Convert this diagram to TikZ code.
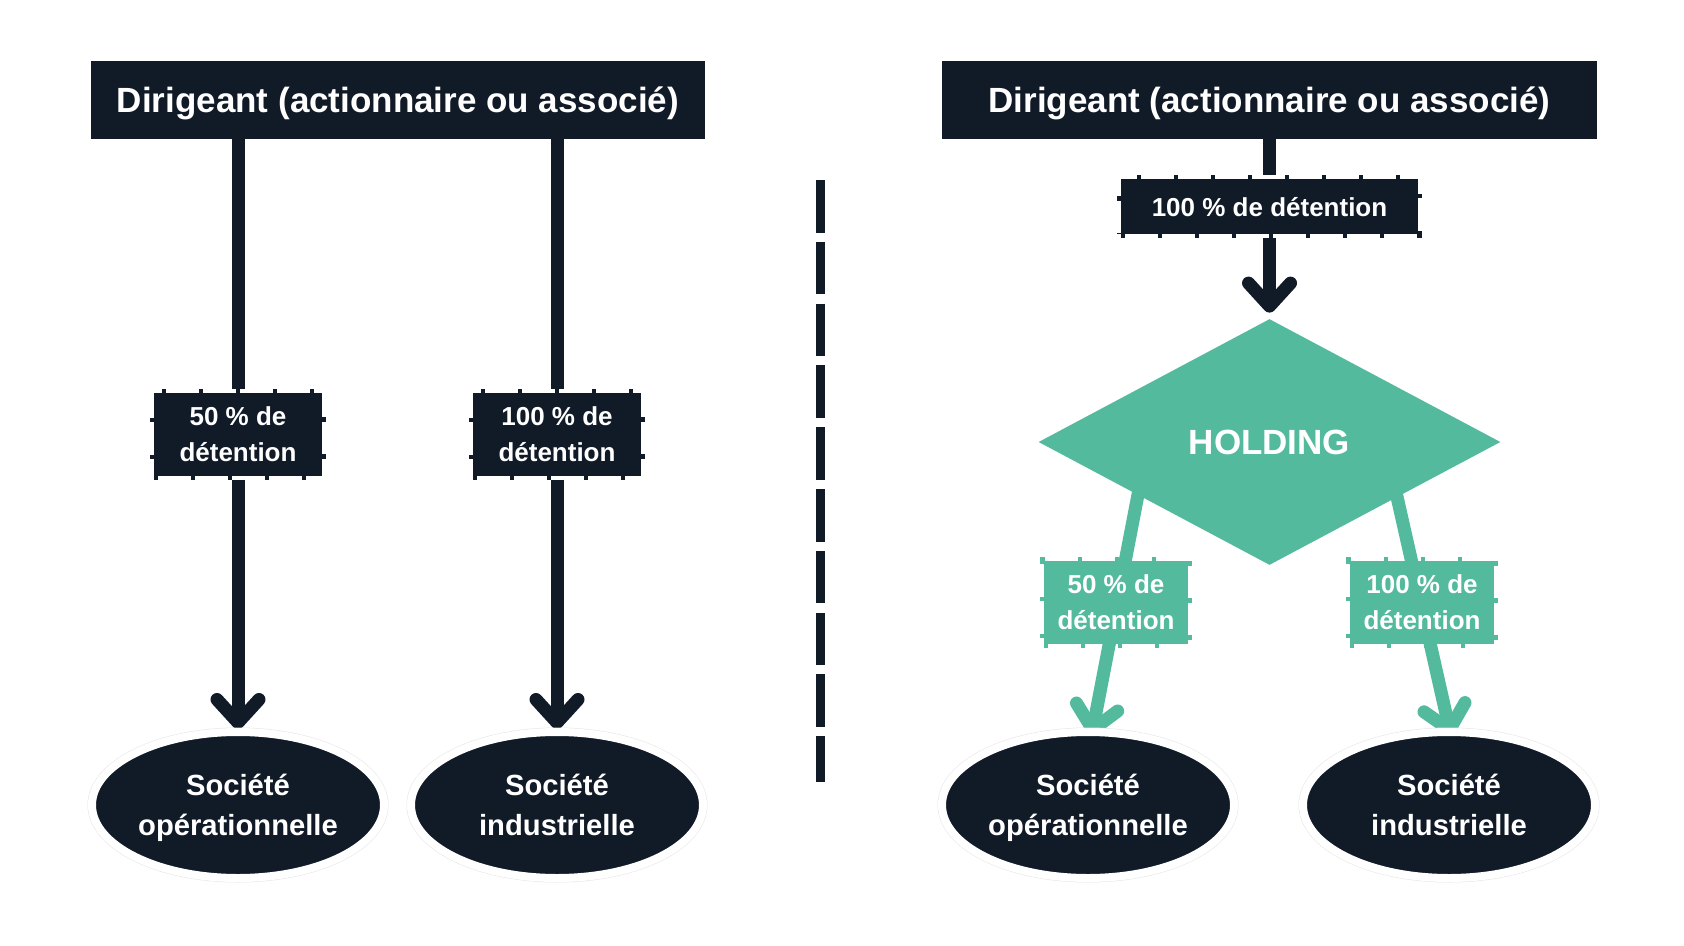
\documentclass[tikz,border=0pt]{standalone}
\usepackage{fontspec}
\setmainfont{Liberation Sans}
\usetikzlibrary{shapes.geometric,arrows.meta,backgrounds,calc}
\definecolor{dark}{HTML}{111A27}
\definecolor{holdgreen}{HTML}{54BA9D}
\newcommand{\nodepth}[1]{\raisebox{0pt}[\height][0pt]{#1}}
\begin{document}
\begin{tikzpicture}[x=0.5pt,y=-0.5pt,
  titlebox/.style={fill=dark, text=white, font=\fontsize{17.5}{21}\selectfont\bfseries,
    minimum width=307pt, minimum height=39pt, inner sep=0pt},
  pctbox/.style={fill=#1, draw=#1, line width=4pt, dash pattern=on 2.2pt off 16.3pt,
    text=white, font=\fontsize{13}{18}\selectfont\bfseries, align=center, inner sep=0pt},
  socnode/.style={ellipse, preaction={draw=gray!20, line width=4.5pt}, fill=dark, draw=white,
    line width=4pt, text=white, font=\fontsize{14.6}{20}\selectfont\bfseries, align=center,
    minimum width=146pt, minimum height=73pt, inner sep=0pt},
  conn/.style={draw=dark, line width=6.5pt},
  gconn/.style={draw=holdgreen, line width=6.5pt},
  tipped/.style={-{Straight Barb[length=11.5pt,width=21pt,round]}}
]
\useasboundingbox (0,0) rectangle (1684,946);

% left part
\node[titlebox] (t1) at (398,100) {\nodepth{Dirigeant (actionnaire ou associé)}};
\node[pctbox=dark, minimum width=84pt, minimum height=41.5pt] (l1) at (238,434) {50 \% de\\détention};
\node[pctbox=dark, minimum width=84pt, minimum height=41.5pt] (l2) at (557,434) {100 \% de\\détention};
\node[socnode] (e1) at (238,805) {Société\\\nodepth{opérationnelle}};
\node[socnode] (e2) at (557,805) {Société\\industrielle};

% separator
\draw[dark, line width=4.5pt, dash pattern=on 26.3pt off 4.6pt] (820,180) -- (820,782);

% right part
\node[titlebox, minimum width=327.5pt] (t2) at (1269.5,100) {\nodepth{Dirigeant (actionnaire ou associé)}};
\node[pctbox=dark, minimum width=148.5pt, minimum height=27.5pt] (r0) at (1269.5,207) {100 \% de détention};
\node[diamond, fill=holdgreen, minimum width=231pt, minimum height=123pt, inner sep=0pt,
  text=white, font=\fontsize{17.5}{21}\selectfont\bfseries] (h) at (1269.5,442) {HOLDING};
\node[pctbox=holdgreen, minimum width=72pt, minimum height=41.5pt] (g1) at (1116,602) {50 \% de\\détention};
\node[pctbox=holdgreen, minimum width=72pt, minimum height=41.5pt] (g2) at (1422,602) {100 \% de\\détention};
\node[socnode] (e3) at (1088,805) {Société\\\nodepth{opérationnelle}};
\node[socnode] (e4) at (1449,805) {Société\\industrielle};

\coordinate (hs1) at (1141,479);
\coordinate (a3) at (1091.5,736);
\coordinate (hs2) at (1393,479);
\coordinate (a4) at (1451,736);

\begin{scope}[on background layer]
  \fill[white] (0,0) rectangle (1684,946);
  \draw[conn] (l1 |- t1) -- (l1);
  \draw[conn, tipped] (l1) -- ($(e1.north)+(0,1)$);
  \draw[conn] (l2 |- t1) -- (l2);
  \draw[conn, tipped] (l2) -- ($(e2.north)+(0,1)$);
  \draw[conn] (t2) -- (r0);
  \draw[conn, tipped] (r0) -- ($(h.north)+(0,-6)$);
  \draw[gconn, tipped] (hs1) -- (a3);
  \draw[gconn, tipped] (hs2) -- (a4);
\end{scope}
\end{tikzpicture}
\end{document}
